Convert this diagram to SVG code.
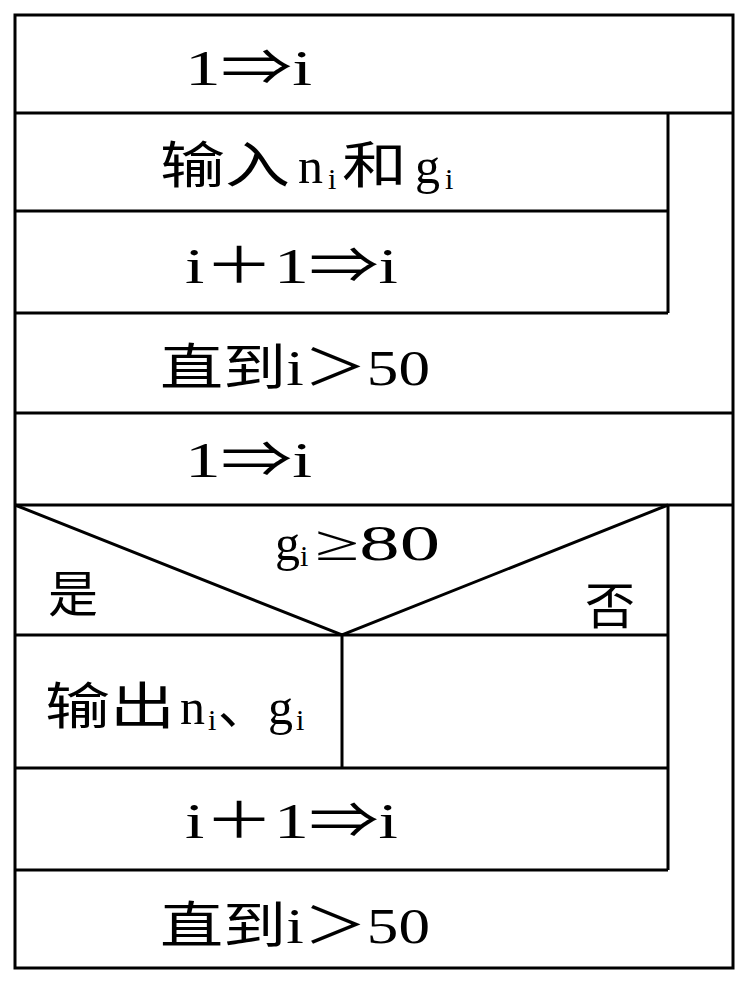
<svg xmlns="http://www.w3.org/2000/svg" width="748" height="990" viewBox="0 0 748 990">
<style>
.l{stroke:#000;stroke-width:3;fill:none}
text{font-family:"Liberation Serif","Noto Sans CJK SC",serif;font-size:50px;fill:#000}
.s{font-size:30px}
</style>
<rect width="748" height="990" fill="#fff"/>
<g id="connectors">
<rect class="l" x="15" y="15" width="718" height="953"/>
<line class="l" x1="15" y1="113" x2="733" y2="113"/>
<line class="l" x1="15" y1="211" x2="668" y2="211"/>
<line class="l" x1="15" y1="313" x2="668" y2="313"/>
<line class="l" x1="668" y1="113" x2="668" y2="313"/>
<line class="l" x1="15" y1="413" x2="733" y2="413"/>
<line class="l" x1="15" y1="505" x2="733" y2="505"/>
<polyline class="l" points="15,505 342,635 668,505"/>
<line class="l" x1="15" y1="635" x2="668" y2="635"/>
<line class="l" x1="342" y1="635" x2="342" y2="768"/>
<line class="l" x1="15" y1="768" x2="668" y2="768"/>
<line class="l" x1="15" y1="870" x2="668" y2="870"/>
<line class="l" x1="668" y1="505" x2="668" y2="870"/>
</g>
<g id="n1"><text x="185" y="85" textLength="127" lengthAdjust="spacingAndGlyphs">1⇒i</text></g>
<g id="n2"><text y="183"><tspan x="160" textLength="130" lengthAdjust="spacingAndGlyphs">输入</tspan><tspan x="298">n</tspan><tspan class="s" x="328" dy="6">i</tspan><tspan x="342" dy="-6" textLength="65" lengthAdjust="spacingAndGlyphs">和</tspan><tspan x="415">g</tspan><tspan class="s" x="445" dy="6">i</tspan></text></g>
<g id="n3"><text x="185" y="283" textLength="213" lengthAdjust="spacingAndGlyphs">i＋1⇒i</text></g>
<g id="n4"><text x="160" y="385" textLength="270" lengthAdjust="spacingAndGlyphs">直到i＞50</text></g>
<g id="n5"><text x="185" y="477" textLength="127" lengthAdjust="spacingAndGlyphs">1⇒i</text></g>
<g id="n6"><text y="560"><tspan x="275">g</tspan><tspan class="s" x="300" dy="6">i</tspan><tspan x="315" dy="-6" textLength="125" lengthAdjust="spacingAndGlyphs">≥80</tspan></text></g>
<g id="n7"><text x="48" y="612">是</text></g>
<g id="n8"><text x="585" y="624">否</text></g>
<g id="n9"><text y="724"><tspan x="45" textLength="130" lengthAdjust="spacingAndGlyphs">输出</tspan><tspan x="180">n</tspan><tspan class="s" x="208" dy="6">i</tspan><tspan x="218" dy="-6">、</tspan><tspan x="268">g</tspan><tspan class="s" x="296" dy="6">i</tspan></text></g>
<g id="n10"><text x="185" y="838" textLength="213" lengthAdjust="spacingAndGlyphs">i＋1⇒i</text></g>
<g id="n11"><text x="160" y="943" textLength="270" lengthAdjust="spacingAndGlyphs">直到i＞50</text></g>
</svg>
